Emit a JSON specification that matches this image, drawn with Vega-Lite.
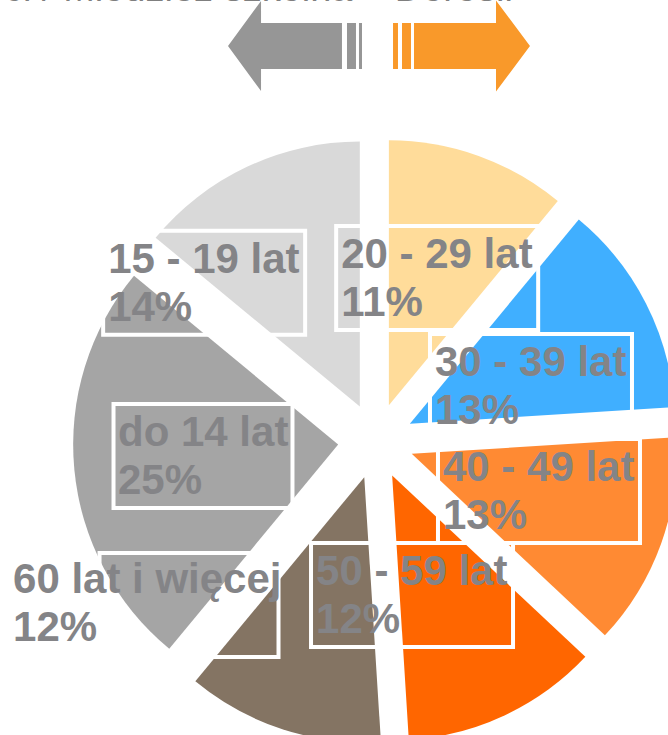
{
  "$schema": "https://vega.github.io/schema/vega-lite/v6.json",
  "width": 668,
  "height": 735,
  "autosize": "none",
  "padding": 0,
  "background": "white",
  "config": {
    "view": {"stroke": null},
    "text": {"align": "left", "dx": -96, "baseline": "middle", "lineBreak": "\n", "font": "Liberation Sans", "fontWeight": "bold", "fontSize": 42, "lineHeight": 48, "fill": "#848487"}
  },
  "title": {
    "text": "Dzieci / Młodzież szkolna – Dorośli",
    "anchor": "start",
    "frame": "group",
    "dx": -72,
    "offset": -9,
    "font": "Liberation Sans",
    "fontSize": 38,
    "fontWeight": "normal",
    "color": "#7F7F7F"
  },
  "layer": [
    {
      "data": {"values": [{"group": "Młodzież szkolna"}]},
      "mark": {"type": "point", "filled": true, "opacity": 1, "strokeWidth": 0, "size": 17956,
        "shape": "M-1,0L-0.507,-0.672L-0.507,-0.343L0.701,-0.343L0.701,0.343L-0.507,0.343L-0.507,0.672Z M0.776,-0.343L0.91,-0.343L0.91,0.343L0.776,0.343Z M0.955,-0.343L1,-0.343L1,0.343L0.955,0.343Z",
        "fill": "#969696"},
      "encoding": {
        "x": {"datum": -81, "type": "quantitative", "scale": {"domain": [-376, 292], "nice": false, "zero": false}, "axis": null},
        "y": {"datum": 395, "type": "quantitative", "scale": {"domain": [-294, 441], "nice": false, "zero": false}, "axis": null}
      }
    },
    {
      "data": {"values": [{"group": "Dorośli"}]},
      "mark": {"type": "point", "filled": true, "opacity": 1, "strokeWidth": 0, "size": 17956,
        "shape": "M1.022,0L0.515,-0.68L0.515,-0.343L-0.709,-0.343L-0.709,0.343L0.515,0.343L0.515,0.68Z M-0.888,-0.343L-0.754,-0.343L-0.754,0.343L-0.888,0.343Z M-1.022,-0.343L-0.948,-0.343L-0.948,0.343L-1.022,0.343Z",
        "fill": "#F9992A"},
      "encoding": {
        "x": {"datum": 85.5, "type": "quantitative", "axis": null},
        "y": {"datum": 395, "type": "quantitative", "axis": null}
      }
    },
    {
      "data": {"values": [
        {"age": "20 - 29 lat", "pct": 11, "order": 1},
        {"age": "30 - 39 lat", "pct": 13, "order": 2},
        {"age": "40 - 49 lat", "pct": 13, "order": 3},
        {"age": "50 - 59 lat", "pct": 12, "order": 4},
        {"age": "60 lat i więcej", "pct": 12, "order": 5},
        {"age": "do 14 lat", "pct": 25, "order": 6},
        {"age": "15 - 19 lat", "pct": 14, "order": 7}
      ]},
      "transform": [
        {"stack": "pct", "groupby": [], "sort": [{"field": "order", "order": "ascending"}], "as": ["v0", "v1"]},
        {"calculate": "(datum.v0 + datum.v1) / 2", "as": "mid"},
        {"calculate": "38 * sin(2 * PI * datum.mid / 100)", "as": "explodeX"},
        {"calculate": "38 * cos(2 * PI * datum.mid / 100)", "as": "explodeY"},
        {"calculate": "datum.age + '\\n' + datum.pct + '%'", "as": "label"},
        {"calculate": "datum.age == '20 - 29 lat' ? 195.7 : datum.age == '30 - 39 lat' ? 173.5 : datum.age == '40 - 49 lat' ? 165.2 : datum.age == '50 - 59 lat' ? 135.9 : datum.age == '60 lat i więcej' ? 301 : datum.age == 'do 14 lat' ? 162.2 : 249.7", "as": "lr"},
        {"calculate": "datum.mid + (datum.age == '20 - 29 lat' ? -0.44 : datum.age == '30 - 39 lat' ? 0.08 : datum.age == '40 - 49 lat' ? -2.89 : datum.age == '50 - 59 lat' ? 2.73 : datum.age == '60 lat i więcej' ? 12.36 : datum.age == 'do 14 lat' ? 2.28 : -5.08)", "as": "lt"},
        {"calculate": "datum.age == 'do 14 lat' ? -11 : datum.age == '60 lat i więcej' ? 80 : 0", "as": "bdx"},
        {"calculate": "datum.age == '60 lat i więcej' ? 25 : 23", "as": "bdy"},
        {"calculate": "datum.lr * sin(2 * PI * datum.lt / 100) + datum.bdx", "as": "bx"},
        {"calculate": "datum.lr * cos(2 * PI * datum.lt / 100) - datum.bdy", "as": "by"}
      ],
      "layer": [
        {
          "mark": {"type": "arc", "outerRadius": 265, "strokeWidth": 0},
          "encoding": {
            "x": {"field": "explodeX", "type": "quantitative", "axis": null},
            "y": {"field": "explodeY", "type": "quantitative", "axis": null},
            "theta": {"field": "v0", "type": "quantitative", "stack": null, "scale": {"domain": [0, 100]}},
            "theta2": {"field": "v1"},
            "color": {
              "field": "age", "type": "nominal", "legend": null,
              "scale": {
                "domain": ["20 - 29 lat", "30 - 39 lat", "40 - 49 lat", "50 - 59 lat", "60 lat i więcej", "do 14 lat", "15 - 19 lat"],
                "range": ["#FFDC9A", "#40AFFF", "#FF8A33", "#FF6600", "#847463", "#A5A5A5", "#D9D9D9"]
              }
            }
          }
        },
        {
          "mark": {"type": "point", "filled": false, "opacity": 1, "stroke": "white", "strokeWidth": 4, "size": 40804},
          "encoding": {
            "x": {"field": "bx", "type": "quantitative", "axis": null},
            "y": {"field": "by", "type": "quantitative", "axis": null},
            "shape": {
              "condition": {"test": "datum.age == 'do 14 lat' || datum.age == '60 lat i więcej'", "value": "M-0.886,-0.515H0.886V0.515H-0.886Z"},
              "value": "M-1,-0.515H1V0.515H-1Z"
            }
          }
        },
        {
          "mark": {"type": "text"},
          "encoding": {
            "x": {"datum": 0, "type": "quantitative"},
            "y": {"datum": 0, "type": "quantitative"},
            "theta": {"field": "lt", "type": "quantitative", "stack": null},
            "radius": {"field": "lr", "type": "quantitative", "scale": {"type": "linear", "domain": [0, 400], "range": [0, 400], "zero": true}},
            "text": {"field": "label"}
          }
        }
      ]
    }
  ]
}
